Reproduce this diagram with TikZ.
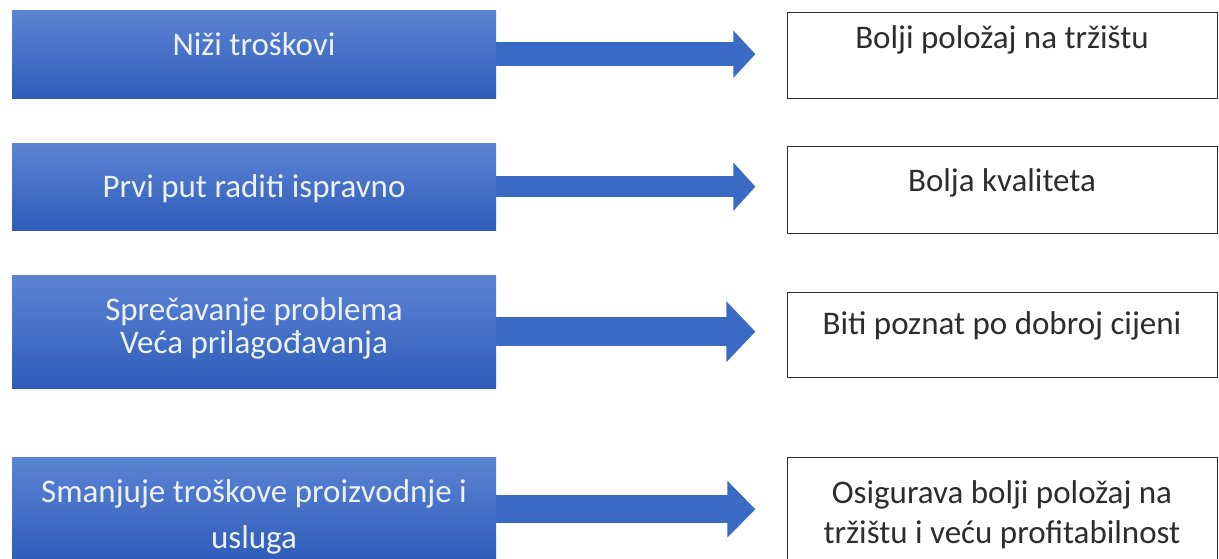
\documentclass[tikz,border=0pt]{standalone}
\usepackage{fontspec}
\setmainfont{Carlito}
\usetikzlibrary{positioning,arrows.meta}
\definecolor{boxtop}{RGB}{92,132,212}
\definecolor{boxbot}{RGB}{46,92,184}
\definecolor{arrblue}{RGB}{58,106,196}
\definecolor{ltxt}{RGB}{236,241,250}
\definecolor{rtxt}{RGB}{45,45,45}
\tikzset{>=stealth,
  lbox/.style={rectangle,inner sep=0pt,top color=boxtop,bottom color=boxbot,
    minimum width=484pt,anchor=north west},
  rbox/.style={rectangle,draw=rtxt,line width=1.4pt,inner sep=0pt,fill=white,
    minimum width=430pt,anchor=north west},
  ltext/.style={anchor=base,inner sep=0pt,text=ltxt,align=center,
    font=\fontsize{33}{40}\selectfont},
  rtext/.style={anchor=base,inner sep=0pt,text=rtxt,align=center,
    font=\fontsize{33}{40}\selectfont},
  flow/.style={draw=arrblue,line cap=butt}}

\begin{document}
\begin{tikzpicture}[x=1pt,y=-1pt]
\useasboundingbox (0,0) rectangle (1219,558);
\fill[white] (0,0) rectangle (1219,558);
% left column
\node[lbox,minimum height=88pt] (l1) at (12,10) {};
\node[lbox,minimum height=87pt] (l2) at (12,143) {};
\node[lbox,minimum height=113pt] (l3) at (12,275) {};
\node[lbox,minimum height=104pt] (l4) at (12,457) {};
\node[ltext] (t1) at (254,55) {Niži troškovi};
\node[ltext] (t2) at (254,197) {Prvi put raditi ispravno};
\node[ltext,font=\fontsize{33}{33}\selectfont] (t3) at (254,353) {Sprečavanje problema\\Veća prilagođavanja};
\node[ltext,font=\fontsize{33}{46}\selectfont] (t4) at (254,548) {Smanjuje troškove proizvodnje i\\usluga};
% right column
\node[rbox,minimum height=86pt] (r1) at (787,12) {};
\node[rbox,minimum height=87pt] (r2) at (787,146) {};
\node[rbox,minimum height=85pt] (r3) at (787,292) {};
\node[rbox,minimum height=104pt] (r4) at (787,457) {};
\node[rtext] (s1) at (1002,48) {Bolji položaj na tržištu};
\node[rtext] (s2) at (1002,191) {Bolja kvaliteta};
\node[rtext] (s3) at (1002,334) {Biti poznat po dobroj cijeni};
\node[rtext] (s4) at (1002,543) {Osigurava bolji položaj na\\tržištu i veću profitabilnost};
% arrows
\foreach \i/\w/\h/\l in {1/24/46/22,2/21/47/22,3/29/59/29,4/28/55/28}{
  \path (l\i.east) ++(259,0) coordinate (e\i);
  \draw[flow,line width=\w pt,-{Triangle[width=\h pt,length=\l pt]}] (l\i.east) -- (e\i);
}
\end{tikzpicture}
\end{document}
